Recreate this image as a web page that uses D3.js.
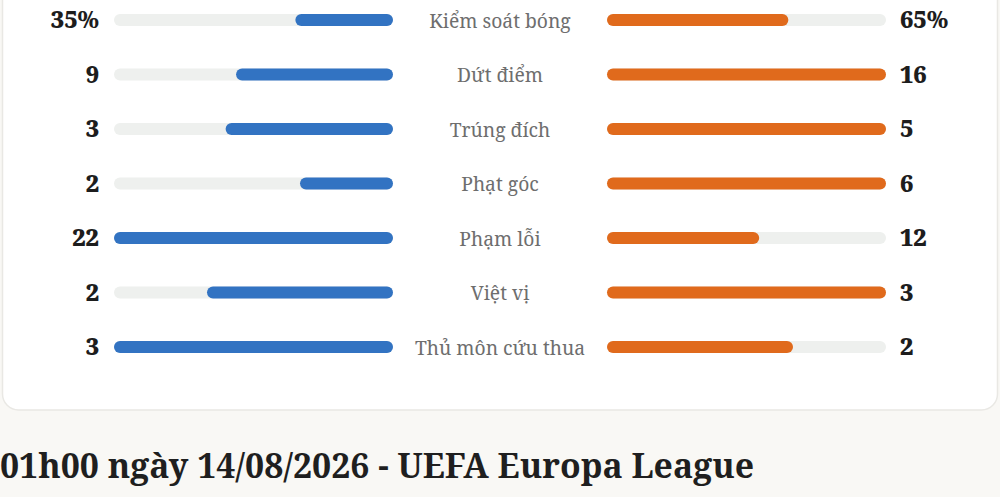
<!DOCTYPE html>
<html>
<head>
<meta charset="utf-8">
<script src="https://cdn.jsdelivr.net/npm/d3@7"></script>
<style>
  html, body { margin: 0; padding: 0; background: #f9f8f5; }
  svg { display: block; }
</style>
</head>
<body>
<svg id="chart" width="1000" height="497"></svg>
<script>
// match stats, home (blue) vs away (orange)
const statLabels = ['Kiểm soát bóng', 'Dứt điểm', 'Trúng đích', 'Phạt góc', 'Phạm lỗi', 'Việt vị', 'Thủ môn cứu thua'];
const homeValues = [35, 9, 3, 2, 22, 2, 3];
const awayValues = [65, 16, 5, 6, 12, 3, 2];
const isPercent = [true, false, false, false, false, false, false];
const titleText = '01h00 ngày 14/08/2026 - UEFA Europa League';

const svg = d3.select('#chart');
const serif = '"Noto Serif", "DejaVu Serif", serif';

// card
svg.append('rect')
    .attr('x', 2.5).attr('y', -30)
    .attr('width', 995).attr('height', 440)
    .attr('rx', 16)
    .attr('fill', '#ffffff')
    .attr('stroke', '#e9e8e4')
    .attr('stroke-width', 1.5);

const rowY = d3.scalePoint()
    .domain(statLabels)
    .range([20, 347]);

const leftX = [114, 393];
const rightX = [607, 886];
const trackW = leftX[1] - leftX[0];
const barH = 12;

const rows = svg.selectAll('g.row')
    .data(statLabels)
    .join('g')
        .attr('class', 'row')
        .attr('transform', d => `translate(0,${rowY(d)})`);

// width of a bar: percent rows against 100, others against the bigger side
function barScale(i) {
    let max = isPercent[i] ? 100 : Math.max(homeValues[i], awayValues[i]);
    return d3.scaleLinear().domain([0, max]).range([0, trackW]);
}

// tracks
rows.append('rect')
    .attr('x', leftX[0]).attr('y', -barH / 2)
    .attr('width', trackW).attr('height', barH)
    .attr('rx', barH / 2)
    .attr('fill', '#eef0ee');
rows.append('rect')
    .attr('x', rightX[0]).attr('y', -barH / 2)
    .attr('width', trackW).attr('height', barH)
    .attr('rx', barH / 2)
    .attr('fill', '#eef0ee');

// home bars grow from the middle to the left
rows.append('rect')
    .attr('x', (d, i) => leftX[1] - barScale(i)(homeValues[i]))
    .attr('y', -barH / 2)
    .attr('width', (d, i) => barScale(i)(homeValues[i]))
    .attr('height', barH)
    .attr('rx', barH / 2)
    .attr('fill', '#3273c2');

// away bars grow from the middle to the right
rows.append('rect')
    .attr('x', rightX[0])
    .attr('y', -barH / 2)
    .attr('width', (d, i) => barScale(i)(awayValues[i]))
    .attr('height', barH)
    .attr('rx', barH / 2)
    .attr('fill', '#e06a1c');

const fmt = (v, i) => isPercent[i] ? v + '%' : v;

rows.append('text')
    .attr('x', 99).attr('y', 8)
    .attr('text-anchor', 'end')
    .attr('font-family', serif)
    .attr('font-weight', 900)
    .attr('font-size', 23.5)
    .attr('fill', '#1d1d1d')
    .text((d, i) => fmt(homeValues[i], i));

rows.append('text')
    .attr('x', 900).attr('y', 8)
    .attr('text-anchor', 'start')
    .attr('font-family', serif)
    .attr('font-weight', 900)
    .attr('font-size', 23.5)
    .attr('fill', '#1d1d1d')
    .text((d, i) => fmt(awayValues[i], i));

rows.append('text')
    .attr('x', 500).attr('y', 7.5)
    .attr('text-anchor', 'middle')
    .attr('font-family', serif)
    .attr('font-size', 19.3)
    .attr('fill', '#6e6e6e')
    .text(d => d);

svg.append('text')
    .attr('x', 0).attr('y', 478)
    .attr('font-family', serif)
    .attr('font-weight', 'bold')
    .attr('font-size', 33.8)
    .attr('fill', '#1f1f1f')
    .text(titleText);
</script>
</body>
</html>
